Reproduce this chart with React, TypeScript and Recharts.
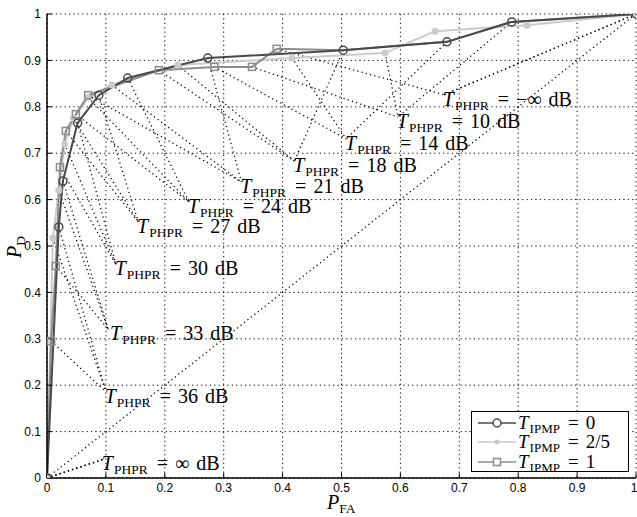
import { LineChart, Line, XAxis, YAxis, CartesianGrid, ReferenceLine, ReferenceDot } from "recharts";

// ROC points, T_IPMP = 0 (dark, circles)
const PFA_0 = [0, 0.02, 0.027, 0.052, 0.088, 0.137, 0.273, 0.503, 0.679, 0.789, 1];
const PD_0 = [0, 0.541, 0.64, 0.765, 0.825, 0.862, 0.905, 0.922, 0.94, 0.983, 1];
// T_IPMP = 2/5 (light, dots)
const PFA_25 = [0, 0.01, 0.02, 0.03, 0.045, 0.07, 0.11, 0.222, 0.416, 0.574, 0.659, 0.815, 1];
const PD_25 = [0, 0.517, 0.62, 0.72, 0.775, 0.82, 0.847, 0.89, 0.905, 0.916, 0.963, 0.976, 1];
// T_IPMP = 1 (mid grey, squares)
const PFA_1 = [0, 0.007, 0.015, 0.022, 0.032, 0.049, 0.07, 0.19, 0.284, 0.348, 0.39];
const PD_1 = [0, 0.295, 0.457, 0.67, 0.748, 0.784, 0.825, 0.879, 0.886, 0.886, 0.925];

const TICKS = [0, 0.1, 0.2, 0.3, 0.4, 0.5, 0.6, 0.7, 0.8, 0.9, 1];
const TICK_LABELS = ["0", "0.1", "0.2", "0.3", "0.4", "0.5", "0.6", "0.7", "0.8", "0.9", "1"];

// threshold labels: text, label anchor (left of T, baseline), fan convergence point
const THR_TEXT = ["\u221e", "36", "33", "30", "27", "24", "21", "18", "14", "10", "\u2212\u221e"];
const THR_LX = [0.093, 0.098, 0.107, 0.115, 0.153, 0.239, 0.328, 0.418, 0.506, 0.594, 0.672];
const THR_LY = [0.017, 0.162, 0.297, 0.4375, 0.528, 0.571, 0.614, 0.659, 0.707, 0.754, 0.802];
const FAN_X = [0.095, 0.1, 0.104, 0.117, 0.155, 0.241, 0.33, 0.42, 0.508, 0.596, 0.674];
const FAN_Y = [0.04, 0.186, 0.32, 0.46, 0.552, 0.595, 0.638, 0.683, 0.731, 0.778, 0.826];
// which point of each series feeds each threshold label
const SRC_0 = [0, 1, 2, 3, 4, 5, 6, 7, 8, 9, 10];
const SRC_25 = [0, 1, 2, 3, 4, 5, 6, 7, 8, 9, 12];
const SRC_1 = [0, 1, 2, 3, 4, 5, 6, 7, 8, 9, 10];

const LEGEND = ["0", "2/5", "1"];

const DARK = "#4a4a4a";
const LIGHT = "#cbcbcb";
const MID = "#8c8c8c";
const SERIF = "Liberation Serif, serif";

const rows = (xs: number[], ys: number[]) => xs.map((x, i) => ({ x, y: ys[i] }));
const data0 = rows(PFA_0, PD_0);
const data25 = rows(PFA_25, PD_25);
const data1 = rows(PFA_1, PD_1);
const data1Tail = [data1[data1.length - 1], ...data0.slice(7)];

const tickStyle = { fontSize: 12, fill: "#000", fontFamily: "Liberation Sans, Arial, sans-serif" };
const fmt = (v: number) => TICK_LABELS[TICKS.indexOf(v)] ?? String(v);

const SquareDot = (props: any) => {
  const { cx, cy, index } = props;
  if (cx == null || cy == null) return <g key={index} />;
  return <rect key={index} x={cx - 3.5} y={cy - 3.5} width={7} height={7} fill="none" stroke={MID} strokeWidth={1.5} />;
};

const ThrLabel = (text: string) => (props: any) => (
  <text x={props.cx} y={props.cy} fontFamily={SERIF} fontSize={20} fill="#000">
    <tspan fontStyle="italic">T</tspan>
    <tspan fontSize={13.5} dy={4} dx={1}>PHPR</tspan>
    <tspan dy={-4} dx={9}>=</tspan>
    <tspan dx={7}>{text}</tspan>
    <tspan dx={7}>dB</tspan>
  </text>
);

function LegendRow({ label, kind }: { label: string; kind: "c" | "d" | "s" }) {
  const color = kind === "c" ? DARK : kind === "d" ? LIGHT : MID;
  return (
    <div style={{ display: "flex", alignItems: "center", height: 19.5 }}>
      <svg width={45} height={14} style={{ flex: "none" }}>
        <line x1={6} x2={44} y1={7} y2={7} stroke={color} strokeWidth={1.5} />
        {kind === "c" && <circle cx={25} cy={7} r={4} fill="#fff" stroke={color} strokeWidth={1.5} />}
        {kind === "d" && <circle cx={25} cy={7} r={2.5} fill={color} />}
        {kind === "s" && <rect x={21.5} y={3.5} width={7} height={7} fill="#fff" stroke={color} strokeWidth={1.5} />}
      </svg>
      <span style={{ fontFamily: SERIF, fontSize: 19, whiteSpace: "nowrap", marginLeft: 1 }}>
        <i>T</i>
        <span style={{ fontSize: 13, position: "relative", top: 4, marginLeft: 1 }}>IPMP</span>
        <span style={{ marginLeft: 8 }}>=</span>
        <span style={{ marginLeft: 7 }}>{label}</span>
      </span>
    </div>
  );
}

export default function App() {
  return (
    <div style={{ position: "absolute", left: 0, top: 0, width: 637, height: 517, background: "#fff" }}>
      <LineChart width={637} height={517} data={data0} margin={{ top: 14, right: 1, bottom: 0, left: 0 }}>
        <CartesianGrid stroke="#000" strokeDasharray="1.2 3.2" strokeWidth={1} />
        <XAxis dataKey="x" type="number" domain={[0, 1]} ticks={TICKS} tickFormatter={fmt} height={39}
          allowDataOverflow tick={tickStyle} tickSize={-5} tickMargin={10}
          axisLine={{ stroke: "#000", strokeWidth: 1.5 }} tickLine={{ stroke: "#000" }} />
        <XAxis xAxisId="top" orientation="top" type="number" domain={[0, 1]} ticks={TICKS} height={0}
          tick={false} tickSize={-5} axisLine={{ stroke: "#000", strokeWidth: 1.5 }} tickLine={{ stroke: "#000" }} />
        <YAxis type="number" domain={[0, 1]} ticks={TICKS} tickFormatter={fmt} width={47}
          allowDataOverflow tick={tickStyle} tickSize={-5} tickMargin={11}
          axisLine={{ stroke: "#000", strokeWidth: 1.5 }} tickLine={{ stroke: "#000" }} />
        <YAxis yAxisId="right" orientation="right" type="number" domain={[0, 1]} ticks={TICKS} width={0}
          tick={false} tickSize={-5} axisLine={{ stroke: "#000", strokeWidth: 1.5 }} tickLine={{ stroke: "#000" }} />

        <ReferenceLine segment={[{ x: 0, y: 0 }, { x: 1, y: 1 }]} stroke="#000" strokeWidth={1.3} strokeDasharray="1.2 3.2" />
        {THR_TEXT.map((_, i) => {
          const src = [data0[SRC_0[i]], data25[SRC_25[i]], data1[SRC_1[i]]];
          return src.map((p, j) => (
            <ReferenceLine key={`f${i}-${j}`} segment={[{ x: p.x, y: p.y }, { x: FAN_X[i], y: FAN_Y[i] }]}
              stroke="#000" strokeWidth={1.3} strokeDasharray="1.2 3.2" />
          ));
        })}

        <Line data={data25} dataKey="y" stroke={LIGHT} strokeWidth={2} isAnimationActive={false}
          dot={{ r: 2.5, fill: LIGHT, stroke: LIGHT }} />
        <Line data={data1Tail} dataKey="y" stroke={MID} strokeWidth={2} isAnimationActive={false} dot={false} />
        <Line data={data1} dataKey="y" stroke={MID} strokeWidth={2} isAnimationActive={false} dot={SquareDot} />
        <Line data={data0} dataKey="y" stroke={DARK} strokeWidth={2} isAnimationActive={false}
          dot={{ r: 4, fill: "none", stroke: DARK, strokeWidth: 1.5 }} />

        {THR_TEXT.map((t, i) => (
          <ReferenceDot key={`l${i}`} x={THR_LX[i]} y={THR_LY[i]} r={0} ifOverflow="visible" shape={ThrLabel(t)} />
        ))}
      </LineChart>

      <div style={{ position: "absolute", left: 3, top: 258, transform: "rotate(-90deg)", transformOrigin: "left top",
        fontFamily: SERIF, fontSize: 20, whiteSpace: "nowrap", lineHeight: "22px" }}>
        <i>P</i><span style={{ fontSize: 13.5, position: "relative", top: 4 }}>D</span>
      </div>
      <div style={{ position: "absolute", left: 327, top: 491, fontFamily: SERIF, fontSize: 20, whiteSpace: "nowrap",
        lineHeight: "22px" }}>
        <i>P</i><span style={{ fontSize: 13.5, position: "relative", top: 4 }}>FA</span>
      </div>

      <div style={{ position: "absolute", left: 471, top: 411, width: 156, height: 58, border: "1.5px solid #000",
        background: "#fff", paddingTop: 1 }}>
        <LegendRow label={LEGEND[0]} kind="c" />
        <LegendRow label={LEGEND[1]} kind="d" />
        <LegendRow label={LEGEND[2]} kind="s" />
      </div>
    </div>
  );
}
